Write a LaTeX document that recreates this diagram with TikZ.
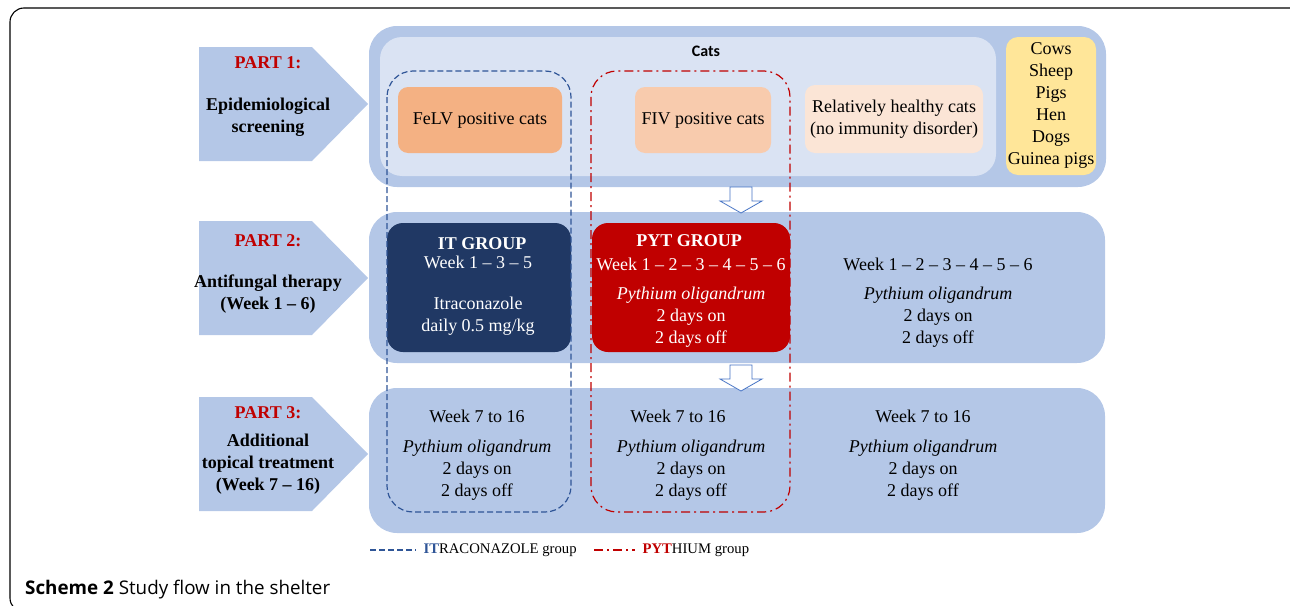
\documentclass[tikz,border=0pt]{standalone}
\usepackage{fontspec}
\setmainfont{Liberation Serif}
\newfontfamily\capfont{Open Sans}
\newfontfamily\catsfont{Carlito}
\usetikzlibrary{positioning}

\definecolor{rowblue}{HTML}{B4C7E7}
\definecolor{catsbg}{HTML}{DAE3F3}
\definecolor{felvcol}{HTML}{F4B183}
\definecolor{fivcol}{HTML}{F8CBAD}
\definecolor{healthycol}{HTML}{FBE5D6}
\definecolor{animalcol}{HTML}{FFE699}
\definecolor{itnavy}{HTML}{203864}
\definecolor{pytred}{HTML}{C00000}
\definecolor{itdash}{HTML}{2F5597}
\definecolor{arrowline}{HTML}{4472C4}

\tikzset{
  box/.style={inner sep=0pt, outer sep=0pt, draw=none},
  txt/.style={font=\fontsize{18}{22}\selectfont, align=center, anchor=base},
  parthead/.style={txt, font=\fontsize{18}{22}\selectfont\bfseries, text=pytred},
  parttxt/.style={txt, font=\fontsize{18}{22}\selectfont\bfseries},
  wtxt/.style={txt, text=white},
  itline/.style={draw=itdash, line width=1.2pt, dash pattern=on 6pt off 3pt},
  pytline/.style={draw=pytred, line width=1.2pt, dash pattern=on 9pt off 4pt on 2pt off 4pt},
  hollowarrow/.style={draw=arrowline, fill=white, line width=0.8pt},
  legtxt/.style={font=\fontsize{14.7}{16}\selectfont}
}

\begin{document}
\begin{tikzpicture}[x=1pt,y=-1pt]
\useasboundingbox (0,0) rectangle (1290,605);

% frame and caption
\draw[line width=1.1pt, rounded corners=14pt] (1292,8) -- (10,8) -- (10,612) -- (40,612);
\node[anchor=base west, inner sep=0pt, font=\capfont\fontsize{18.8}{20}\selectfont] (caption) at (25,594)
  {\textbf{Scheme 2} Study flow in the shelter};

% part arrows
\foreach \t in {47,221,397}
  \fill[rowblue] (199,\t) -- ++(113,0) -- ++(56,57) -- ++(-56,57) -- ++(-113,0) -- cycle;

% multi-line texts sit on the baseline of their last line
\node[parthead] (p1head) at (268,68) {PART 1:};
\node[parttxt] (p1txt) at (268,132) {Epidemiological\\screening};
\node[parthead] (p2head) at (268,246) {PART 2:};
\node[parttxt] (p2txt) at (268,309) {Antifungal therapy\\(Week 1 -- 6)};
\node[parthead] (p3head) at (268,418) {PART 3:};
\node[parttxt] (p3txt) at (268,490) {Additional\\topical treatment\\(Week 7 -- 16)};

% part 1: screening
\node[box, fill=rowblue, rounded corners=28pt, minimum width=737pt, minimum height=161pt] (row1) at (737.5,106.5) {};
\node[box, fill=catsbg, rounded corners=22pt, minimum width=616pt, minimum height=139pt] (catsbox) at (688,106.5) {};
\node[font=\catsfont\bfseries\fontsize{16}{18}\selectfont] (catslbl) at (706,51) {Cats};
\node[box, fill=felvcol, rounded corners=10pt, minimum width=164pt, minimum height=66pt,
  font=\fontsize{18}{22}\selectfont] (felv) at (480,120) {FeLV positive cats};
\node[box, fill=fivcol, rounded corners=10pt, minimum width=136pt, minimum height=66pt,
  font=\fontsize{18}{22}\selectfont] (fiv) at (703,120) {FIV positive cats};
\node[box, fill=healthycol, rounded corners=10pt, minimum width=178pt, minimum height=68pt,
  font=\fontsize{18}{22}\selectfont, align=center] (healthy) at (894,119) {Relatively healthy cats\\(no immunity disorder)};
\node[box, fill=animalcol, rounded corners=12pt, minimum width=90pt, minimum height=138pt] (animals) at (1051,106) {};
\node[txt] (animaltxt) at (1051,164) {Cows\\Sheep\\Pigs\\Hen\\Dogs\\Guinea pigs};

% part 2: antifungal therapy
\node[box, fill=rowblue, rounded corners=28pt, minimum width=736pt, minimum height=151pt] (row2) at (737,287.5) {};
\node[box, fill=itnavy, rounded corners=16pt, minimum width=184pt, minimum height=129pt] (itbox) at (479,287.5) {};
\node[box, fill=pytred, rounded corners=16pt, minimum width=198pt, minimum height=129pt] (pytbox) at (691,287.5) {};

\node[wtxt, font=\fontsize{18}{22}\selectfont\bfseries] (ithead) at (482,249) {IT GROUP};
\node[wtxt] (itweek) at (478,268) {Week 1 -- 3 -- 5};
\node[wtxt] (itdrug) at (478,331) {Itraconazole\\daily 0.5 mg/kg};

\node[wtxt, font=\fontsize{18}{22}\selectfont\bfseries] (pythead) at (689,246) {PYT GROUP};
\node[wtxt] (pytweek) at (691,270) {Week 1 -- 2 -- 3 -- 4 -- 5 -- 6};
\node[wtxt] (pytdrug) at (691,343) {\textit{Pythium oligandrum}\\2 days on\\2 days off};

\node[txt] (restweek) at (938,270) {Week 1 -- 2 -- 3 -- 4 -- 5 -- 6};
\node[txt] (restdrug) at (938,343) {\textit{Pythium oligandrum}\\2 days on\\2 days off};

% part 3: topical treatment
\node[box, fill=rowblue, rounded corners=28pt, minimum width=736pt, minimum height=145pt] (row3) at (737,460.5) {};
\node[txt] (itweekb) at (477,422) {Week 7 to 16};
\node[txt] (itdrugb) at (477,496) {\textit{Pythium oligandrum}\\2 days on\\2 days off};
\node[txt] (pytweekb) at (678,422) {Week 7 to 16};
\node[txt] (pytdrugb) at (691,496) {\textit{Pythium oligandrum}\\2 days on\\2 days off};
\node[txt] (restweekb) at (923,422) {Week 7 to 16};
\node[txt] (restdrugb) at (923,496) {\textit{Pythium oligandrum}\\2 days on\\2 days off};

% flow arrows
\coordinate (dn1) at (741,187);
\coordinate (dn2) at (741,365);
\foreach \c in {dn1,dn2}
  \draw[hollowarrow, shift={(\c)}] (-11,0) -- (-11,14) -- (-21,14) -- (0,26) -- (21,14) -- (11,14) -- (11,0) -- cycle;

% group outlines
\draw[itline, rounded corners=26pt] (387,71) rectangle (571,512);
\draw[pytline, rounded corners=26pt] (591,71) rectangle (790,512);

% legend
\coordinate (itl1) at (370,550);
\coordinate (itl2) at (416,550);
\coordinate (pyl1) at (594,550);
\coordinate (pyl2) at (635,550);
\draw[itline] (itl1) -- (itl2);
\draw[pytline] (pyl1) -- (pyl2);
\node[legtxt, right=4pt of itl2] (itleg) {\textbf{\color{itdash}IT}RACONAZOLE group};
\node[legtxt, right=4pt of pyl2] (pyleg) {\textbf{\color{pytred}PYT}HIUM group};
\end{tikzpicture}
\end{document}
